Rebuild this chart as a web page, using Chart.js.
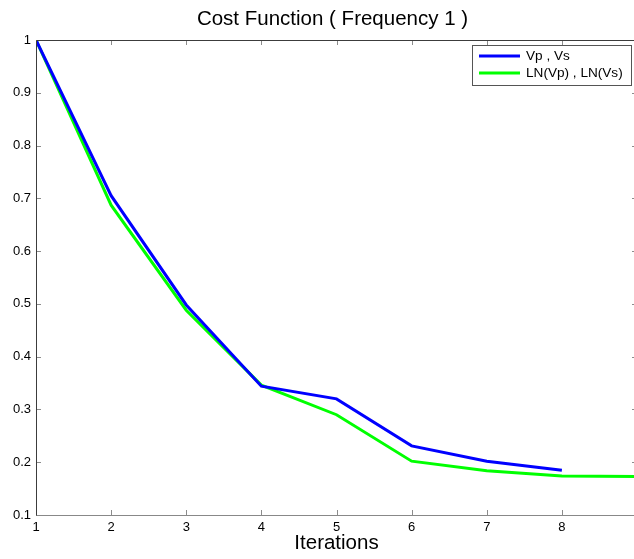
<!DOCTYPE html>
<html>
<head>
<meta charset="utf-8">
<script src="https://cdn.jsdelivr.net/npm/chart.js@4"></script>
<style>
html,body{margin:0;padding:0;overflow:hidden;background:#fff;}
#c{display:block;}
</style>
</head>
<body>
<canvas id="c" width="645" height="559"></canvas>
<script>
// ---- data ----
const iterationsVp = [1, 2, 3, 4, 5, 6, 7, 8];
const costVp = [1.0, 0.705, 0.498, 0.344, 0.320, 0.231, 0.202, 0.185];
const iterationsLN = [1, 2, 3, 4, 5, 6, 7, 8, 9];
const costLN = [1.0, 0.687, 0.488, 0.346, 0.290, 0.202, 0.184, 0.174, 0.173];
const xTickLabels = ['1', '2', '3', '4', '5', '6', '7', '8'];
const yTickLabels = ['0.1', '0.2', '0.3', '0.4', '0.5', '0.6', '0.7', '0.8', '0.9', '1'];
const seriesNames = ['Vp , Vs', 'LN(Vp) , LN(Vs)'];
const titleText = 'Cost Function ( Frequency 1 )';
const xTitle = 'Iterations';

const FONT = 'Liberation Sans, Arial, Helvetica, sans-serif';

const boxPlugin = {
  id: 'boxPlugin',
  afterDatasetsDraw(chart) {
    const {ctx, chartArea: a, scales: {x, y}} = chart;
    ctx.save();
    // tick marks (inward) on all sides
    ctx.strokeStyle = '#8c8c8c';
    ctx.lineWidth = 1;
    const tl = 5;
    x.ticks.forEach(t => {
      const px = Math.round(x.getPixelForValue(t.value)) + 0.5;
      ctx.beginPath();
      ctx.moveTo(px, a.bottom); ctx.lineTo(px, a.bottom - tl);
      ctx.moveTo(px, a.top); ctx.lineTo(px, a.top + tl);
      ctx.stroke();
    });
    y.ticks.forEach(t => {
      const py = Math.round(y.getPixelForValue(t.value)) + 0.5;
      ctx.beginPath();
      ctx.moveTo(a.left, py); ctx.lineTo(a.left + tl, py);
      ctx.moveTo(a.right, py); ctx.lineTo(a.right - tl, py);
      ctx.stroke();
    });
    // box
    const L = Math.round(a.left) + 0.5, T = Math.round(a.top) + 0.5;
    const R = Math.round(a.right) + 0.5, B = Math.round(a.bottom) + 0.5;
    ctx.strokeStyle = '#888';
    ctx.beginPath();
    ctx.moveTo(L, B); ctx.lineTo(R, B);
    ctx.stroke();
    ctx.strokeStyle = '#3c3c3c';
    ctx.beginPath();
    ctx.moveTo(L, B); ctx.lineTo(L, T); ctx.lineTo(R, T); ctx.lineTo(R, B);
    ctx.stroke();
    ctx.restore();
  },
  afterDraw(chart) {
    const {ctx} = chart;
    ctx.save();
    // title
    ctx.fillStyle = '#000';
    ctx.font = '20.5px ' + FONT;
    ctx.textAlign = 'center';
    ctx.textBaseline = 'middle';
    ctx.fillText(titleText, 332.5, 19.5);
    // legend box inside plot, top right
    const bx = 472, by = 45, bw = 159, bh = 40;
    ctx.fillStyle = '#fff';
    ctx.fillRect(bx, by, bw, bh);
    ctx.strokeStyle = '#555';
    ctx.lineWidth = 1;
    ctx.strokeRect(bx + 0.5, by + 0.5, bw, bh);
    ctx.font = '13.6px ' + FONT;
    ctx.textAlign = 'left';
    ctx.textBaseline = 'middle';
    chart.data.datasets.forEach((ds, i) => {
      const ly = by + 11 + i * 17;
      ctx.strokeStyle = ds.borderColor;
      ctx.lineWidth = 3;
      ctx.beginPath();
      ctx.moveTo(bx + 7, ly); ctx.lineTo(bx + 48, ly);
      ctx.stroke();
      ctx.fillStyle = '#000';
      ctx.fillText(ds.label, bx + 54, ly);
    });
    ctx.restore();
  }
};

new Chart(document.getElementById('c'), {
  type: 'line',
  data: {
    datasets: [
      {
        label: seriesNames[0],
        data: iterationsVp.map((v, i) => ({x: v, y: costVp[i]})),
        borderColor: '#0000ff',
        borderWidth: 3,
        pointRadius: 0,
        tension: 0,
        fill: false
      },
      {
        label: seriesNames[1],
        data: iterationsLN.map((v, i) => ({x: v, y: costLN[i]})),
        borderColor: '#00ff00',
        borderWidth: 3,
        pointRadius: 0,
        tension: 0,
        fill: false
      }
    ]
  },
  options: {
    responsive: false,
    animation: false,
    layout: {padding: {left: 0, right: 8, top: 40, bottom: 0}},
    plugins: {
      legend: {display: false},
      tooltip: {enabled: false},
      title: {display: false}
    },
    scales: {
      x: {
        type: 'linear',
        min: 1, max: 9,
        grid: {display: false, drawTicks: false},
        border: {display: false},
        ticks: {
          stepSize: 1,
          color: '#000',
          padding: 5,
          font: {family: FONT, size: 13},
          maxRotation: 0,
          autoSkip: false,
          callback: (v) => xTickLabels[v - 1] !== undefined ? xTickLabels[v - 1] : ''
        },
        title: {
          display: true,
          text: xTitle,
          color: '#000',
          font: {family: FONT, size: 20.5},
          padding: {top: 0, bottom: 3}
        },
        afterFit: (s) => { s.height = 44; }
      },
      y: {
        type: 'linear',
        min: 0.1, max: 1,
        grid: {display: false, drawTicks: false},
        border: {display: false},
        ticks: {
          stepSize: 0.1,
          color: '#000',
          padding: 5,
          font: {family: FONT, size: 13},
          callback: (v) => {
            const idx = Math.round(v * 10) - 1;
            return yTickLabels[idx] !== undefined ? yTickLabels[idx] : '';
          }
        },
        afterFit: (s) => { s.width = 36; }
      }
    }
  },
  plugins: [boxPlugin]
});
</script>
</body>
</html>
